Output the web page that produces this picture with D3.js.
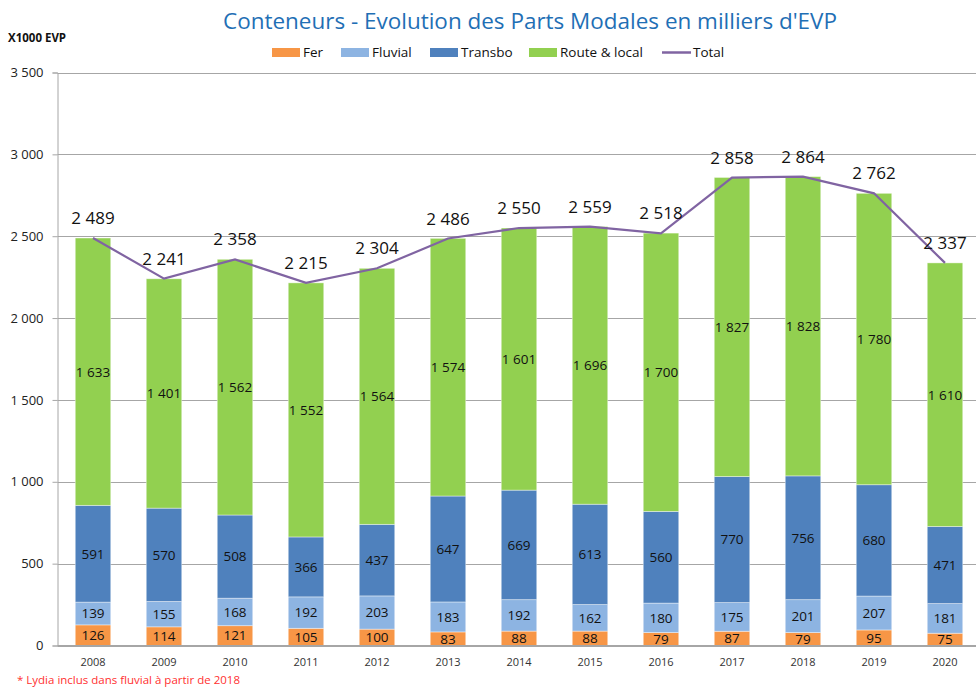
<!DOCTYPE html>
<html>
<head>
<meta charset="utf-8">
<script src="https://cdn.jsdelivr.net/npm/d3@7"></script>
<style>
  body { margin: 0; background: #fff; }
  svg { display: block; font-family: "Open Sans", "Noto Sans", sans-serif; }
</style>
</head>
<body>
<div id="chart"></div>
<script>
// Chart values
const years = ["2008", "2009", "2010", "2011", "2012", "2013", "2014", "2015", "2016", "2017", "2018", "2019", "2020"];
const fer = [126, 114, 121, 105, 100, 83, 88, 88, 79, 87, 79, 95, 75];
const fluvial = [139, 155, 168, 192, 203, 183, 192, 162, 180, 175, 201, 207, 181];
const transbo = [591, 570, 508, 366, 437, 647, 669, 613, 560, 770, 756, 680, 471];
const route = [1633, 1401, 1562, 1552, 1564, 1574, 1601, 1696, 1700, 1827, 1828, 1780, 1610];
const total = [2489, 2241, 2358, 2215, 2304, 2486, 2550, 2559, 2518, 2858, 2864, 2762, 2337];
const yTicks = [0, 500, 1000, 1500, 2000, 2500, 3000, 3500];

const seriesNames = ["Fer", "Fluvial", "Transbo", "Route & local"];
const seriesKeys = ["fer", "fluvial", "transbo", "route"];
const colors = { fer: "#F79646", fluvial: "#8DB4E2", transbo: "#4F81BD", route: "#92D050", total: "#8064A2" };

const width = 976;
const height = 690;

const locale = d3.formatLocale({ decimal: ",", thousands: "\u00a0", grouping: [3], currency: ["", " €"] });
const fmt = locale.format(",d");

// table for the stack
const table = years.map((y, i) => ({
  year: y, fer: fer[i], fluvial: fluvial[i], transbo: transbo[i], route: route[i], total: total[i]
}));

const svg = d3.select("#chart").append("svg")
  .attr("width", width)
  .attr("height", height);

const x = d3.scaleBand().domain(years).range([57.5, 980.5]).paddingInner(0.5).paddingOuter(0.25);
const y = d3.scaleLinear().domain([0, 3500]).range([645.5, 72.5]);

// Title
svg.append("text")
  .attr("x", 530).attr("y", 29)
  .attr("text-anchor", "middle")
  .attr("font-size", 22)
  .attr("fill", "#1F6FB5")
  .attr("textLength", 614)
  .attr("lengthAdjust", "spacingAndGlyphs")
  .text("Conteneurs - Evolution des Parts Modales en milliers d'EVP");

// Unit label
svg.append("text")
  .attr("x", 8).attr("y", 42)
  .attr("font-size", 11.5)
  .attr("font-weight", "bold")
  .attr("fill", "#111")
  .text("X1000 EVP");

// Gridlines + y axis
const yAxis = d3.axisLeft(y).tickValues(yTicks).tickSize(5).tickFormat(fmt);
const gy = svg.append("g").attr("transform", "translate(57.5,0)").call(yAxis);
gy.select(".domain").attr("stroke", "#a6a6a6");
gy.selectAll(".tick line").attr("stroke", "#a6a6a6");
gy.selectAll(".tick text").attr("font-size", 13).attr("fill", "#222").attr("x", -14)
  .attr("font-family", "'Open Sans', sans-serif");

svg.append("g").selectAll("line")
  .data(yTicks)
  .join("line")
  .attr("x1", 57.5).attr("x2", width)
  .attr("y1", d => Math.round(y(d)) + 0.5)
  .attr("y2", d => Math.round(y(d)) + 0.5)
  .attr("stroke", "#a6a6a6");

// Stacked bars
const stack = d3.stack().keys(seriesKeys);
const stacked = stack(table);

const layers = svg.append("g").selectAll("g")
  .data(stacked)
  .join("g")
  .attr("fill", d => colors[d.key]);

layers.selectAll("rect")
  .data(d => d)
  .join("rect")
  .attr("x", d => x(d.data.year))
  .attr("width", x.bandwidth())
  .attr("y", d => y(d[1]))
  .attr("height", d => y(d[0]) - y(d[1]))
  .attr("stroke", "#ffffff")
  .attr("stroke-opacity", 0.5)
  .attr("stroke-width", 0.8);

// Segment value labels
layers.selectAll("text")
  .data(d => d.map(v => ({ v, key: d.key })))
  .join("text")
  .attr("x", d => x(d.v.data.year) + x.bandwidth() / 2)
  .attr("y", d => (y(d.v[0]) + y(d.v[1])) / 2)
  .attr("dy", "0.36em")
  .attr("text-anchor", "middle")
  .attr("font-size", 13.5)
  .attr("fill", "#111")
  .text(d => fmt(d.v.data[d.key]));

// Total line
const line = d3.line()
  .x(d => x(d.year) + x.bandwidth() / 2)
  .y(d => y(d.total));

svg.append("path")
  .datum(table)
  .attr("d", line)
  .attr("fill", "none")
  .attr("stroke", colors.total)
  .attr("stroke-width", 2.2);

svg.append("g").selectAll("text")
  .data(table)
  .join("text")
  .attr("x", d => x(d.year) + x.bandwidth() / 2)
  .attr("y", d => y(d.total) - 14)
  .attr("text-anchor", "middle")
  .attr("font-size", 17)
  .attr("fill", "#111")
  .text(d => fmt(d.total));

// X axis baseline and year labels
svg.append("line")
  .attr("x1", 57.5).attr("x2", width)
  .attr("y1", 645.5).attr("y2", 645.5)
  .attr("stroke", "#a6a6a6");

svg.append("g").selectAll("text")
  .data(years)
  .join("text")
  .attr("x", d => x(d) + x.bandwidth() / 2)
  .attr("y", 666)
  .attr("text-anchor", "middle")
  .attr("font-size", 11)
  .attr("fill", "#333")
  .text(d => d);

// Legend
const legendItems = [
  { name: seriesNames[0], key: "fer", x: 272 },
  { name: seriesNames[1], key: "fluvial", x: 341 },
  { name: seriesNames[2], key: "transbo", x: 430 },
  { name: seriesNames[3], key: "route", x: 529 }
];
const legend = svg.append("g");
legend.selectAll("rect")
  .data(legendItems)
  .join("rect")
  .attr("x", d => d.x).attr("y", 48)
  .attr("width", 28).attr("height", 9)
  .attr("fill", d => colors[d.key]);
legend.selectAll("text.item")
  .data(legendItems)
  .join("text")
  .attr("class", "item")
  .attr("x", d => d.x + 31).attr("y", 57)
  .attr("font-size", 13.5)
  .attr("fill", "#111")
  .text(d => d.name);
legend.append("line")
  .attr("x1", 662).attr("x2", 691)
  .attr("y1", 52.5).attr("y2", 52.5)
  .attr("stroke", colors.total)
  .attr("stroke-width", 2.5);
legend.append("text")
  .attr("x", 693).attr("y", 57)
  .attr("font-size", 13.5)
  .attr("fill", "#111")
  .text("Total");

// Footnote
svg.append("text")
  .attr("x", 17).attr("y", 684)
  .attr("font-size", 11.5)
  .attr("fill", "#FF3030")
  .text("* Lydia inclus dans fluvial à partir de 2018");
</script>
</body>
</html>
